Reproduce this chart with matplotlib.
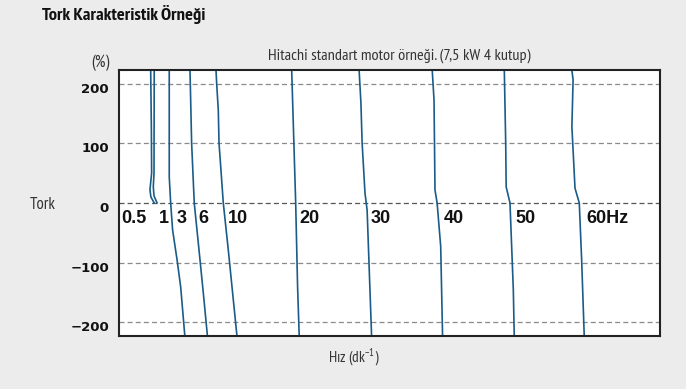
import matplotlib
matplotlib.use("Agg")
import matplotlib.pyplot as plt
from matplotlib.transforms import ScaledTranslation

# ---- data (speed in rpm, torque in %) ----
speed_05 = [-1, 2, 3, -4, 0, 14]
torque_05 = [226, 123, 50, 22, 10, 0]
speed_1 = [14, 13, 10, 13, 26]
torque_1 = [226, 50, 27, 12, 0]
speed_3 = [77, 77, 83, 91, 110, 125, 143]
torque_3 = [226, 44, 0, -45, -96, -141, -226]
speed_6 = [164, 171, 182, 202, 220, 238]
torque_6 = [226, 101, 0, -79, -151, -226]
speed_10 = [273, 276, 283, 286, 304, 325, 362]
torque_10 = [226, 202, 156, 101, 0, -79, -226]
speed_20 = [591, 608, 616, 623]
torque_20 = [226, 0, -141, -226]
speed_30 = [874, 882, 887, 899, 908, 917, 927]
torque_30 = [226, 168, 101, 17, -12, -113, -226]
speed_40 = [1181, 1189, 1193, 1202, 1217, 1225]
torque_40 = [226, 173, 22, 0, -73, -226]
speed_50 = [1484, 1490, 1492, 1508, 1515, 1522, 1526]
torque_50 = [226, 101, 27, 0, -73, -146, -226]
speed_60 = [1767, 1773, 1768, 1781, 1799, 1809, 1820]
torque_60 = [226, 207, 128, 25, 0, -96, -226]

freq_labels = ["0.5", "1", "3", "6", "10", "20", "30", "40", "50", "60Hz"]
label_x = [-125, 34, 108, 198, 323, 622, 923, 1231, 1529, 1827]
label_y = -34

y_ticks = [200, 100, 0, -100, -200]

curves = [(speed_05, torque_05), (speed_1, torque_1), (speed_3, torque_3),
          (speed_6, torque_6), (speed_10, torque_10), (speed_20, torque_20),
          (speed_30, torque_30), (speed_40, torque_40), (speed_50, torque_50),
          (speed_60, torque_60)]

BG = "#ececec"
LINE = "#1a5c88"
NARROW = ["PT Sans Narrow", "DejaVu Sans"]

fig = plt.figure(figsize=(6.86, 3.89), dpi=100, facecolor=BG)
ax = fig.add_axes([119 / 686, 1 - 336 / 389, (660 - 119) / 686, (336 - 70) / 389])
ax.set_facecolor("white")

for s, t in curves:
    ax.plot(s, t, color=LINE, lw=1.2, solid_joinstyle="round")

ax.set_xlim(-134, 2138)
ax.set_ylim(-223.5, 223.5)

ax.set_yticks(y_ticks)
ax.set_xticks([])
ax.grid(axis="y", linestyle=(0, (4, 2.5)), linewidth=0.9, color="#8a8a8a")
for gl, v in zip(ax.get_ygridlines(), y_ticks):
    if v == 0:
        gl.set_color("#555555")
ax.tick_params(axis="y", length=0, pad=7.2, labelsize=9.5)
off = ScaledTranslation(0, -4 / 100, fig.dpi_scale_trans)
for lab in ax.get_yticklabels():
    lab.set_fontweight("bold")
    lab.set_color("#111111")
    lab.set_transform(lab.get_transform() + off)

for sp in ax.spines.values():
    sp.set_color("#222222")
    sp.set_linewidth(1.5)

for txt, x in zip(freq_labels, label_x):
    ax.text(x, label_y, txt, fontsize=13, fontweight="bold", family="Liberation Sans",
            color="#111111", va="baseline", ha="left")

fig.text(42 / 686, 1 - 14 / 389, "Tork Karakteristik Örneği", family=NARROW,
         fontsize=13.3, fontweight="bold", color="#111111", va="center", ha="left")
fig.text(399 / 686, 1 - 56 / 389, "Hitachi standart motor örneği. (7,5 kW 4 kutup)",
         family=NARROW, fontsize=11.7, color="#333333", va="center", ha="center")
fig.text(100 / 686, 1 - 63 / 389, "(%)", family=NARROW, fontsize=12,
         color="#333333", va="center", ha="center")
fig.text(43 / 686, 1 - 205 / 389, "Tork", family=NARROW, fontsize=12,
         color="#333333", va="center", ha="center")
fig.text(354 / 686, 1 - 357 / 389, r"Hız (dk$^{\mathregular{-1}}$)", family=NARROW,
         fontsize=11, color="#333333", va="center", ha="center")

fig.savefig("out.png", dpi=100, facecolor=BG)
